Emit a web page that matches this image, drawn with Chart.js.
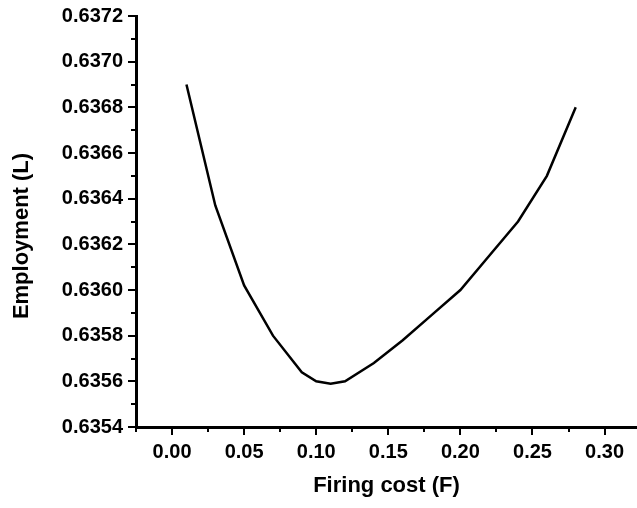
<!DOCTYPE html>
<html>
<head>
<meta charset="utf-8">
<script src="https://cdn.jsdelivr.net/npm/chart.js@4.4.1/dist/chart.umd.min.js"></script>
<style>
  html, body { margin: 0; padding: 0; background: #fff; }
  #wrap { width: 637px; height: 508px; }
</style>
</head>
<body>
<div id="wrap"><canvas id="chart" width="637" height="508"></canvas></div>
<script>
// firing cost values (x) and employment values (y)
var firingCost = [0.01, 0.03, 0.05, 0.07, 0.09, 0.10, 0.11, 0.12, 0.14, 0.16, 0.18, 0.20, 0.22, 0.24, 0.26, 0.28];
var employment = [0.63690, 0.63637, 0.63602, 0.63580, 0.63564, 0.63560, 0.63559, 0.63560, 0.63568, 0.63578, 0.63589, 0.63600, 0.63615, 0.63630, 0.63650, 0.63680];

// tick labels
var xTicks = [0.00, 0.05, 0.10, 0.15, 0.20, 0.25, 0.30];
var yTicks = [0.6354, 0.6356, 0.6358, 0.6360, 0.6362, 0.6364, 0.6366, 0.6368, 0.6370, 0.6372];

var fontFamily = "'Liberation Sans', Arial, sans-serif";

var points = firingCost.map(function (f, i) {
    return { x: f, y: employment[i] };
});

// Origin style tick marks: long major ticks, short minor ticks, outside the axes
var tickMarks = {
    id: 'tickMarks',
    afterDraw: function (chart) {
        var ctx = chart.ctx;
        var xs = chart.scales.x;
        var ys = chart.scales.y;
        var area = chart.chartArea;
        ctx.save();
        ctx.strokeStyle = '#000';
        ctx.lineWidth = 2;
        ctx.beginPath();
        // x axis: every 0.025
        for (var k = -1; k <= 13; k++) {
            var v = k * 0.025;
            if (v > xs.max + 1e-9) break;
            var px = Math.round(xs.getPixelForValue(v));
            var len = (k % 2 === 0) ? 8 : 5;
            ctx.moveTo(px, area.bottom);
            ctx.lineTo(px, area.bottom + len);
        }
        // y axis: every 0.0001
        for (var j = 0; j <= 18; j++) {
            var val = 0.6354 + j * 0.0001;
            var py = Math.round(ys.getPixelForValue(val));
            var l = (j % 2 === 0) ? 8 : 5;
            ctx.moveTo(area.left, py);
            ctx.lineTo(area.left - l, py);
        }
        ctx.stroke();

        // y axis title
        ctx.translate(22, 236);
        ctx.rotate(-Math.PI / 2);
        ctx.fillStyle = '#000';
        ctx.font = 'bold 22px ' + fontFamily;
        ctx.textAlign = 'center';
        ctx.textBaseline = 'middle';
        ctx.fillText('Employment (L)', 0, 0);
        ctx.restore();
    }
};

var ctx = document.getElementById('chart').getContext('2d');
var chart = new Chart(ctx, {
    type: 'line',
    data: {
        datasets: [{
            data: points,
            borderColor: '#000',
            backgroundColor: '#000',
            borderWidth: 2.5,
            pointRadius: 0,
            tension: 0,
            fill: false
        }]
    },
    options: {
        responsive: false,
        animation: false,
        layout: { padding: { top: 16, right: 0, left: 0, bottom: 0 } },
        plugins: {
            legend: { display: false },
            tooltip: { enabled: false }
        },
        scales: {
            x: {
                type: 'linear',
                min: -0.025,
                max: 0.3225,
                afterBuildTicks: function (scale) {
                    scale.ticks = xTicks.map(function (v) { return { value: v }; });
                },
                afterFit: function (scale) {
                    scale.height = 81;
                    scale.paddingLeft = 0;
                    scale.paddingRight = 0;
                },
                grid: { display: false, drawTicks: false, tickLength: 0 },
                border: { display: true, color: '#000', width: 3 },
                ticks: {
                    color: '#000',
                    padding: 13,
                    maxRotation: 0,
                    font: { family: fontFamily, size: 20, weight: 'bold' },
                    callback: function (v) { return Number(v).toFixed(2); }
                },
                title: {
                    display: true,
                    text: 'Firing cost (F)',
                    color: '#000',
                    font: { family: fontFamily, size: 22, weight: 'bold' },
                    padding: { top: 6, bottom: 9 }
                }
            },
            y: {
                type: 'linear',
                min: 0.6354,
                max: 0.6372,
                afterBuildTicks: function (scale) {
                    scale.ticks = yTicks.map(function (v) { return { value: v }; });
                },
                afterFit: function (scale) {
                    scale.width = 136;
                    scale.paddingTop = 0;
                    scale.paddingBottom = 0;
                },
                grid: { display: false, drawTicks: false, tickLength: 0 },
                border: { display: true, color: '#000', width: 3 },
                ticks: {
                    color: '#000',
                    padding: 13,
                    font: { family: fontFamily, size: 20, weight: 'bold' },
                    callback: function (v) { return Number(v).toFixed(4); }
                }
            }
        }
    },
    plugins: [tickMarks]
});
</script>
</body>
</html>
